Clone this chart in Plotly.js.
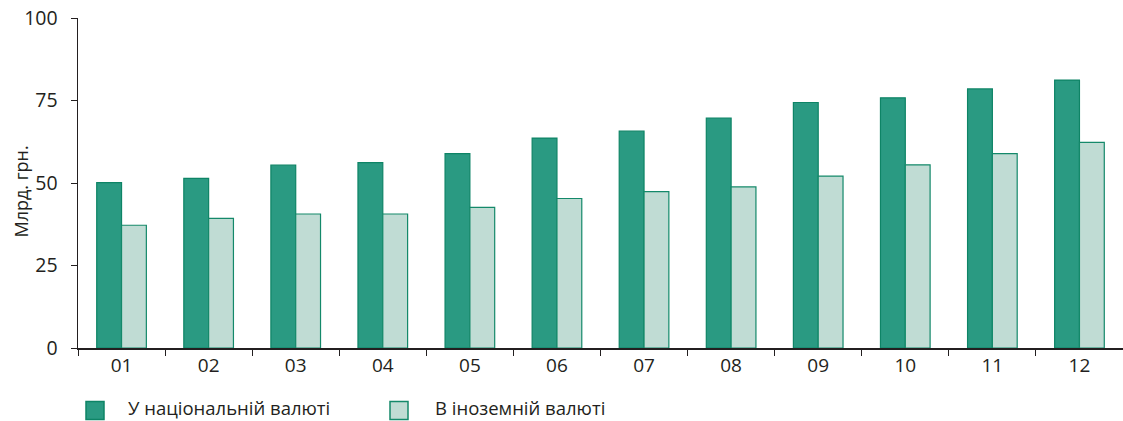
<!DOCTYPE html>
<html>
<head>
<meta charset="utf-8">
<script src="https://cdn.plot.ly/plotly-3.0.1.min.js"></script>
<style>html,body{margin:0;padding:0;background:#fff;}#chart{width:1123px;height:421px;}</style>
</head>
<body>
<div id="chart"></div>
<script>
var categories = ["01","02","03","04","05","06","07","08","09","10","11","12"];
var nationalCurrency = [50.1, 51.4, 55.4, 56.2, 58.9, 63.6, 65.7, 69.7, 74.4, 75.8, 78.5, 81.2];
var foreignCurrency = [37.2, 39.3, 40.6, 40.6, 42.6, 45.3, 47.4, 48.8, 52.1, 55.5, 58.9, 62.3];
var seriesNames = ["У національній валюті", "В іноземній валюті"];
var yTickVals = [0, 25, 50, 75, 100];
var yAxisTitle = "Млрд. грн.";

var fontFam = "'Open Sans', 'Noto Sans', sans-serif";
var textColor = "#231f20";
var fills = ["#2a9a82", "#c0dcd4"];
var edges = ["#0e8466", "#14896a"];

var W = 1123, H = 421, ML = 78, MR = 0, MT = 18, MB = 73;
var PW = W - ML - MR, PH = H - MT - MB;
function px2x(p) { return (p - ML) / PW; }
function px2y(p) { return (H - MB - p) / PH; }

var data = [0, 1].map(function (i) {
  return {type: "bar", name: seriesNames[i], x: categories,
          y: i === 0 ? nationalCurrency : foreignCurrency, showlegend: false,
          marker: {color: fills[i], line: {color: edges[i], width: 1.2}}};
});

// manual legend (swatch + label) placed under the axis
var legendSwatchLeft = [86, 390];
var legendTextLeft = [127, 434];
var shapes = [], annotations = [];
[0, 1].forEach(function (i) {
  shapes.push({type: "rect", xref: "paper", yref: "paper",
    x0: px2x(legendSwatchLeft[i]), x1: px2x(legendSwatchLeft[i] + 18),
    y0: px2y(419.5), y1: px2y(401.5),
    fillcolor: fills[i], line: {color: edges[i], width: 1.5}});
  annotations.push({text: seriesNames[i], xref: "paper", yref: "paper",
    x: px2x(legendTextLeft[i]), y: px2y(420.5), xanchor: "left", yanchor: "bottom",
    borderpad: 0, showarrow: false, font: {family: fontFam, size: 18.5, color: textColor}});
});
annotations.push({text: yAxisTitle, xref: "paper", yref: "paper", x: px2x(20), y: px2y(191.5),
  xanchor: "center", yanchor: "middle", textangle: -90, showarrow: false,
  font: {family: fontFam, size: 18, color: textColor}});

var layout = {
  width: W, height: H,
  margin: {l: ML, r: MR, t: MT, b: MB},
  paper_bgcolor: "#fff", plot_bgcolor: "#fff",
  barmode: "group", bargap: 0.43, bargroupgap: 0,
  font: {family: fontFam, size: 18, color: textColor},
  showlegend: false,
  xaxis: {type: "category", showline: true, linecolor: "#231f20", linewidth: 1.5,
          ticks: "outside", tickson: "boundaries", ticklen: 6, tickcolor: "#231f20",
          showgrid: false, zeroline: false, tickfont: {size: 19}},
  yaxis: {range: [0, 100], tickvals: yTickVals, showline: true, linecolor: "#231f20", linewidth: 1.5,
          ticks: "outside", ticklen: 6, tickcolor: "#231f20", showgrid: false, zeroline: false,
          tickfont: {size: 19.5}, ticklabelstandoff: 9},
  shapes: shapes,
  annotations: annotations
};

Plotly.newPlot("chart", data, layout, {displayModeBar: false, staticPlot: true});
</script>
</body>
</html>
